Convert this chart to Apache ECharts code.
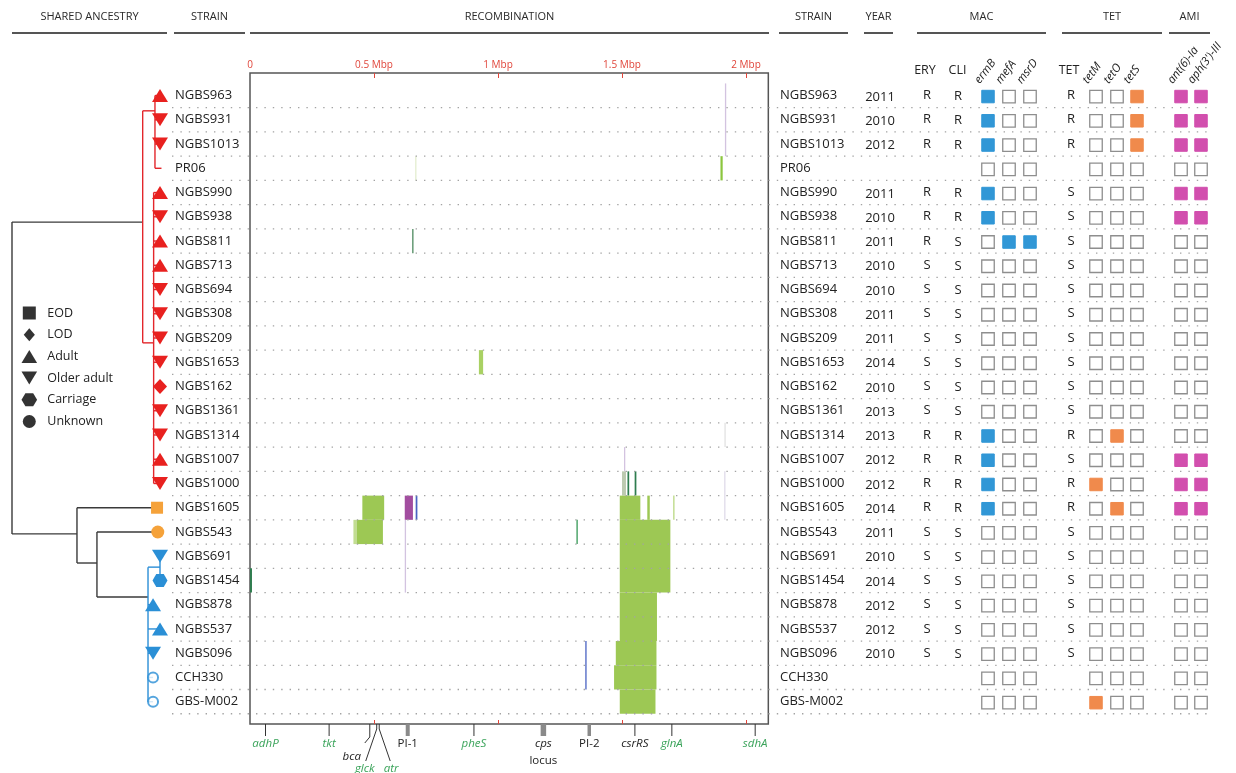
<!DOCTYPE html>
<html><head><meta charset="utf-8">
<script src="https://cdn.jsdelivr.net/npm/echarts@6/dist/echarts.min.js"></script>
<style>html,body{margin:0;padding:0;background:#fff}#c{width:1236px;height:773px}</style>
</head><body><div id="c"></div>
<script>
// ---------------- DATA ----------------
const strains = ['NGBS963','NGBS931','NGBS1013','PR06','NGBS990','NGBS938','NGBS811','NGBS713','NGBS694','NGBS308','NGBS209','NGBS1653','NGBS162','NGBS1361','NGBS1314','NGBS1007','NGBS1000','NGBS1605','NGBS543','NGBS691','NGBS1454','NGBS878','NGBS537','NGBS096','CCH330','GBS-M002'];
const hostGroup = ['Adult','Older adult','Older adult','Reference','Adult','Older adult','Adult','Adult','Older adult','Older adult','Older adult','Older adult','LOD','Older adult','Older adult','Adult','Older adult','EOD','Unknown','Older adult','Carriage','Adult','Adult','Older adult','Reference','Reference'];
const strainClade = ['red','red','red','red','red','red','red','red','red','red','red','red','red','red','red','red','red','orange','orange','blue','blue','blue','blue','blue','blue','blue'];
const years = ['2011','2010','2012','','2011','2010','2011','2010','2010','2011','2011','2014','2010','2013','2013','2012','2012','2014','2011','2010','2014','2012','2012','2010','',''];
const ery = ['R','R','R','','R','R','R','S','S','S','S','S','S','S','R','R','R','R','S','S','S','S','S','S','',''];
const cli = ['R','R','R','','R','R','S','S','S','S','S','S','S','S','R','R','R','R','S','S','S','S','S','S','',''];
const tet = ['R','R','R','','S','S','S','S','S','S','S','S','S','S','R','S','R','R','S','S','S','S','S','S','',''];
const ermB = [1,1,1,0,1,1,0,0,0,0,0,0,0,0,1,1,1,1,0,0,0,0,0,0,0,0];
const mefA = [0,0,0,0,0,0,1,0,0,0,0,0,0,0,0,0,0,0,0,0,0,0,0,0,0,0];
const msrD = [0,0,0,0,0,0,1,0,0,0,0,0,0,0,0,0,0,0,0,0,0,0,0,0,0,0];
const tetM = [0,0,0,0,0,0,0,0,0,0,0,0,0,0,0,0,1,0,0,0,0,0,0,0,0,1];
const tetO = [0,0,0,0,0,0,0,0,0,0,0,0,0,0,1,0,0,1,0,0,0,0,0,0,0,0];
const tetS = [1,1,1,0,0,0,0,0,0,0,0,0,0,0,0,0,0,0,0,0,0,0,0,0,0,0];
const ant6 = [1,1,1,0,1,1,0,0,0,0,0,0,0,0,0,1,1,1,0,0,0,0,0,0,0,0];
const aph3 = [1,1,1,0,1,1,0,0,0,0,0,0,0,0,0,1,1,1,0,0,0,0,0,0,0,0];

// Tree: internal nodes [id, parent, relative depth, row position, clade]
const treeNodes = [
  ['root', null, 0, 5.22, 'k'],
  ['cRed', 'root', 0.883, 5.22, 'red'],
  ['cRedA', 'cRed', 0.966, 0.63, 'red'],
  ['cRedB', 'cRed', 0.957, 10.2, 'red'],
  ['n1', 'root', 0.439, 18.08, 'k'],
  ['n2', 'n1', 0.574, 19.28, 'k'],
  ['cBlue', 'n2', 0.919, 20.68, 'blue'],
  ['cBlue1', 'cBlue', 1.0, 19.45, 'blue']
];
const leafParent = ['cRedA','cRedA','cRedA','cRedA','cRedB','cRedB','cRedB','cRedB','cRedB','cRedB','cRedB','cRedB','cRedB','cRedB','cRedB','cRedB','cRedB','n1','n2','cBlue1','cBlue1','cBlue','cBlue','cBlue','cBlue','cBlue'];
const leafDepth = [1,1,1,1.01,1,1,1,1,1,1,1,1,1,1,1,1,1,0.98,0.985,1,1,0.953,1,0.953,0.953,0.953];

// Recombination segments (Mbp) and rows
const recStart   = [1.915,1.897,0.666,0.654,0.923,1.913,1.508,1.500,1.522,1.551,1.912,0.453,0.624,0.668,1.491,1.602,1.706,0.417,0.430,1.316,1.491,0.624,0.000,1.491,1.475,1.468,1.491,1.352];
const recEnd     = [1.919,1.906,0.670,0.658,0.940,1.917,1.512,1.516,1.529,1.558,1.916,0.541,0.657,0.675,1.574,1.612,1.712,0.430,0.536,1.322,1.695,0.628,0.008,1.641,1.639,1.639,1.635,1.356];
const recRowFrom = [0,3,3,6,11,14,15,16,16,16,16,17,17,17,17,17,17,18,18,18,18,18,20,21,23,24,25,23];
const recRowTo   = [2,3,3,6,11,14,15,16,16,16,17,17,17,17,17,17,17,18,18,18,20,20,20,22,23,24,25,24];
const recType    = ['lav','green2','pale','dark2','green3','faint','lav','grayGreen','dark','dark','faintLav','green','purple','blue','green','green','pale2','pale2','green','mid','green','lav','dark','green','green','green','green','blue'];

// Genome axis ticks and gene annotations
const mbpTicks = [0, 0.5, 1, 1.5, 2];
const geneNames = ['adhP','tkt','bca','glck','atr','PI-1','pheS','cps','PI-2','csrRS','glnA','sdhA'];
const genePos   = [0.0625,0.319,0.483,0.511,0.521,0.636,0.903,1.183,1.368,1.552,1.701,2.037];
const geneKind  = ['mlst','mlst','gene','mlst','mlst','island','mlst','island','island','gene','mlst','mlst'];
const geneSubLabel = {cps: 'locus'};

// Headers
const headerTitles = ['SHARED ANCESTRY','STRAIN','RECOMBINATION','STRAIN','YEAR','MAC','TET','AMI'];
const legendNames = ['EOD','LOD','Adult','Older adult','Carriage','Unknown'];

// ---------------- LAYOUT / STYLE ----------------
const FONT = 'Open Sans';
const Y_MIN = -0.93, Y_MAX = 25.92;
const GRID_TOP = 73, GRID_H = 651;
const MBP_MAX = 2.09;
const headerSpan = [[12,167],[174,245],[250,769],[779,848],[864,893],[917,1046],[1062,1162],[1169,1210]];
const COLS = {strainL:175, strainR:780, year:880, ery:927, cli:958, ermB:988, mefA:1009, msrD:1030, tet:1071, tetM:1096, tetO:1117, tetS:1137, ant:1181, aph:1201};
const cladeLine = {k:'#3a3a3a', red:'#e3262b', blue:'#2b8ed6'};
const cladeFill = {red:'#e8211f', orange:'#f5a23a', blue:'#2a8fd6'};
const recColor = {green:'#9dc854', green2:'#8cc63f', green3:'#a9d163', pale:'#e4edcf', pale2:'#c2dd92', dark:'#2f7d4f', dark2:'#4d8a5f', mid:'#4ea56b', purple:'#a24d9f', blue:'#4a63c2', lav:'#d3c3e0', faintLav:'#e0dbe9', faint:'#e2e2e2', grayGreen:'#bccab0'};
const groupSymbol = {
  'EOD': {symbol:'path://M0,0H10V10H0Z', size:[12,12]},
  'LOD': {symbol:'path://M6,0L12,7L6,14L0,7Z', size:[14,15]},
  'Adult': {symbol:'path://M6,0L12,10H0Z', size:[16,13]},
  'Older adult': {symbol:'path://M0,0H12L6,10Z', size:[16,13]},
  'Carriage': {symbol:'path://M3,0H9L12,5L9,10H3L0,5Z', size:[15,13]},
  'Unknown': {symbol:'circle', size:13}
};
const geneColumns = [
  {key:'ermB', label:'ermB', data:ermB, color:'#3197d6'},
  {key:'mefA', label:'mefA', data:mefA, color:'#3197d6'},
  {key:'msrD', label:'msrD', data:msrD, color:'#3197d6'},
  {key:'tetM', label:'tetM', data:tetM, color:'#f08a4c'},
  {key:'tetO', label:'tetO', data:tetO, color:'#f08a4c'},
  {key:'tetS', label:'tetS', data:tetS, color:'#f08a4c'},
  {key:'ant',  label:'ant(6)-Ia', data:ant6, color:'#d24fae'},
  {key:'aph',  label:"aph(3')-III", data:aph3, color:'#d24fae'}
];
const geneLayout = {
  bca:  {leader:[[0,0],[0,13],[-5,19]], label:[-18,33]},
  glck: {leader:[[0,0],[0,5],[-11,37]], label:[-12,45]},
  atr:  {leader:[[0,0],[0,5],[11,37]], label:[12,45]}
};
const islandWidth = {'PI-1':4, 'cps':5.5, 'PI-2':3.5};

// ---------------- BUILD ----------------
const nodeMap = {};
treeNodes.forEach(([id,parent,depth,row,cl]) => nodeMap[id] = {id,parent,depth,row,cl,kids:[]});
strains.forEach((s,i) => nodeMap[s] = {id:s,parent:leafParent[i],depth:leafDepth[i],row:i,cl:strainClade[i],kids:[]});
Object.values(nodeMap).forEach(n => { if (n.parent) nodeMap[n.parent].kids.push(n); });
const treeSegs = [];
Object.values(nodeMap).forEach(n => {
  if (!n.kids.length) return;
  const rows = n.kids.map(k => k.row);
  treeSegs.push([n.depth, Math.min(...rows), n.depth, Math.max(...rows), n.cl]);
  n.kids.forEach(k => treeSegs.push([n.depth, k.row, k.depth, k.row, n.cl]));
});

const markerSeries = legendNames.map(g => ({
  type:'scatter', name:g, xAxisIndex:1, yAxisIndex:1, z:6,
  symbol: groupSymbol[g].symbol, symbolSize: groupSymbol[g].size, symbolKeepAspect:false,
  itemStyle:{color:'#333', opacity:1},
  emphasis:{disabled:true}, silent:true,
  data: strains.map((s,i) => hostGroup[i] === g ? {value:[leafDepth[i], i], itemStyle:{color:cladeFill[strainClade[i]]}} : null).filter(Boolean)
}));
markerSeries.push({
  type:'scatter', name:'Reference', xAxisIndex:1, yAxisIndex:1, z:6, symbol:'emptyCircle', symbolSize:10,
  itemStyle:{borderWidth:2}, silent:true,
  data: strains.map((s,i) => hostGroup[i] === 'Reference' ? {value:[leafDepth[i], i], itemStyle:{color:cladeFill[strainClade[i]], borderColor:cladeFill[strainClade[i]], borderWidth:2}} : null).filter(Boolean)
});

// table texts
const textItems = [];
strains.forEach((s,i) => {
  textItems.push({x:COLS.strainL, row:i, text:s, align:'left'});
  textItems.push({x:COLS.strainR, row:i, text:s, align:'left'});
  if (years[i]) textItems.push({x:COLS.year, row:i, text:years[i], align:'center', dy:1.5});
  if (ery[i]) textItems.push({x:COLS.ery, row:i, text:ery[i], align:'center'});
  if (cli[i]) textItems.push({x:COLS.cli, row:i, text:cli[i], align:'center', dy:1});
  if (tet[i]) textItems.push({x:COLS.tet, row:i, text:tet[i], align:'center'});
});
const boxItems = [];
geneColumns.forEach(gc => gc.data.forEach((v,i) => boxItems.push({x:COLS[gc.key], row:i, on:v, color:gc.color})));

const dividers = strains.map((s,i) => i + 0.5);

// graphics: headers
const graphics = [];
headerTitles.forEach((t,i) => {
  const [a,b] = headerSpan[i];
  graphics.push({type:'text', x:(a+b)/2, y:17, style:{text:t, fontFamily:FONT, fontSize:11, fill:'#2a2a2a', align:'center', verticalAlign:'middle'}});
  graphics.push({type:'line', shape:{x1:a, y1:33, x2:b, y2:33}, style:{stroke:'#555', lineWidth:2}});
});
[['ERY',925],['CLI',957.5],['TET',1069]].forEach(([t,x]) => graphics.push({type:'text', x, y:70, style:{text:t, fontFamily:FONT, fontSize:12.5, fill:'#222', align:'center', verticalAlign:'middle'}}));
geneColumns.forEach(gc => graphics.push({type:'text', x:COLS[gc.key]-6, y:86, rotation:53*Math.PI/180,
  style:{text:gc.label, fontFamily:FONT, fontSize:11.5, fontStyle:'italic', fill:'#222', align:'left', verticalAlign:'bottom'}}));

const chart = echarts.init(document.getElementById('c'), null, {width:1236, height:773});
const yAx = i => ({type:'value', gridIndex:i, min:Y_MIN, max:Y_MAX, inverse:true, show:false});

chart.setOption({
  animation:false,
  textStyle:{fontFamily:FONT},
  grid:[
    {left:250, top:GRID_TOP, width:MBP_MAX*248, height:GRID_H, show:true, borderColor:'#555', borderWidth:1.5, backgroundColor:'transparent'},
    {left:12, top:GRID_TOP, width:148, height:GRID_H},
    {left:0, top:GRID_TOP, width:1236, height:GRID_H}
  ],
  xAxis:[
    {type:'value', gridIndex:0, position:'top', min:0, max:MBP_MAX, interval:0.5,
      axisLine:{show:false, onZero:false}, splitLine:{show:false},
      axisTick:{show:true, inside:true, length:5, lineStyle:{color:'#e0453a', width:1}, customValues:mbpTicks.slice(1)},
      axisLabel:{customValues:mbpTicks, color:'#e0453a', fontSize:10, margin:3, fontFamily:FONT,
        formatter:v => v === 0 ? '0' : v + ' Mbp'}},
    {type:'value', gridIndex:1, min:0, max:1, show:false},
    {type:'value', gridIndex:2, min:0, max:1236, show:false},
    {type:'value', gridIndex:0, position:'bottom', min:0, max:MBP_MAX, interval:0.5,
      axisLine:{show:false, onZero:false}, splitLine:{show:false}, axisLabel:{show:false},
      axisTick:{show:true, inside:true, length:4, lineStyle:{color:'#e0453a', width:1}, customValues:mbpTicks.slice(1)}}
  ],
  yAxis:[yAx(0), yAx(1), yAx(2)],
  legend:{
    data: legendNames, orient:'vertical', left:21.5, top:306.5, itemWidth:26, itemHeight:13, itemGap:8.7,
    selectedMode:false, padding:0, symbolKeepAspect:true,
    textStyle:{fontFamily:FONT, fontSize:12.5, color:'#222'},
    itemStyle:{color:'#333'}
  },
  graphic: graphics,
  series:[
    {type:'custom', name:'recombination', xAxisIndex:0, yAxisIndex:0, z:2, silent:true,
      data: recStart.map((s,i) => [s, recEnd[i], recRowFrom[i], recRowTo[i]]),
      renderItem:(params, api) => {
        const p0 = api.coord([api.value(0), api.value(2) - 0.5]);
        const p1 = api.coord([api.value(1), api.value(3) + 0.5]);
        const w = Math.max(p1[0]-p0[0], 1.3);
        return {type:'rect', shape:{x:p0[0], y:p0[1], width:w, height:p1[1]-p0[1]}, style:{fill:recColor[recType[params.dataIndex]]}};
      }},
    {type:'custom', name:'dividers', xAxisIndex:2, yAxisIndex:2, z:3, silent:true,
      data: dividers.map(d => [0, d]),
      renderItem:(params, api) => {
        const a = api.coord([172, api.value(1)]), b = api.coord([1212, api.value(1)]);
        return {type:'line', shape:{x1:a[0], y1:a[1], x2:b[0], y2:b[1]}, style:{stroke:'#a3a3a3', lineWidth:1.4, lineDash:[1.4,7]}};
      }},
    {type:'custom', name:'tree', xAxisIndex:1, yAxisIndex:1, z:4, silent:true,
      data: treeSegs.map(s => [s[0], s[1], s[2], s[3]]),
      renderItem:(params, api) => {
        const a = api.coord([api.value(0), api.value(1)]), b = api.coord([api.value(2), api.value(3)]);
        return {type:'line', shape:{x1:a[0], y1:a[1], x2:b[0], y2:b[1]}, style:{stroke:cladeLine[treeSegs[params.dataIndex][4]], lineWidth:1.4}};
      }},
    ...markerSeries,
    {type:'custom', name:'texts', xAxisIndex:2, yAxisIndex:2, z:7, silent:true,
      data: textItems.map(t => [t.x, t.row]),
      renderItem:(params, api) => {
        const t = textItems[params.dataIndex];
        const p = api.coord([api.value(0), api.value(1)]);
        return {type:'text', x:p[0], y:p[1] + (t.dy || 0), style:{text:t.text, fontFamily:FONT, fontSize:13, fill:'#222', align:t.align, verticalAlign:'middle'}};
      }},
    {type:'custom', name:'boxes', xAxisIndex:2, yAxisIndex:2, z:7, silent:true,
      data: boxItems.map(b => [b.x, b.row]),
      renderItem:(params, api) => {
        const b = boxItems[params.dataIndex];
        const p = api.coord([api.value(0), api.value(1)]);
        const s = 12.5;
        return {type:'rect', shape:{x:p[0]-s/2, y:p[1]-s/2+1, width:s, height:s},
          style: b.on ? {fill:b.color, stroke:b.color, lineWidth:1} : {fill:'#fff', stroke:'#8e8e8e', lineWidth:1.3}};
      }},
    {type:'custom', name:'genes', xAxisIndex:0, yAxisIndex:0, z:5, silent:true, clip:false,
      data: genePos.map((p,i) => [p, i]),
      renderItem:(params, api) => {
        const i = params.dataIndex, name = geneNames[i], kind = geneKind[i];
        const x = api.coord([api.value(0), 0])[0];
        const yb = api.coord([0, Y_MAX])[1];
        const lay = geneLayout[name] || {leader:[[0,0],[0,12]], label:[0,20]};
        const children = [];
        const isIsland = kind === 'island';
        children.push({type:'polyline', shape:{points:lay.leader.map(([dx,dy]) => [x+dx, yb+dy])},
          style:{stroke: isIsland ? '#8a8a8a' : '#333', lineWidth: isIsland ? islandWidth[name] : 1, fill:null}});
        children.push({type:'text', x:x+lay.label[0], y:yb+lay.label[1], style:{text:name, fontFamily:FONT, fontSize:11.5,
          fontStyle: name.indexOf('PI') === 0 ? 'normal' : 'italic', fill: kind === 'mlst' ? '#3aa35a' : '#222', align:'center', verticalAlign:'middle'}});
        if (geneSubLabel[name]) children.push({type:'text', x:x+lay.label[0], y:yb+lay.label[1]+17, style:{text:geneSubLabel[name], fontFamily:FONT, fontSize:11.5, fill:'#222', align:'center', verticalAlign:'middle'}});
        return {type:'group', children};
      }}
  ]
});
</script>
</body></html>
